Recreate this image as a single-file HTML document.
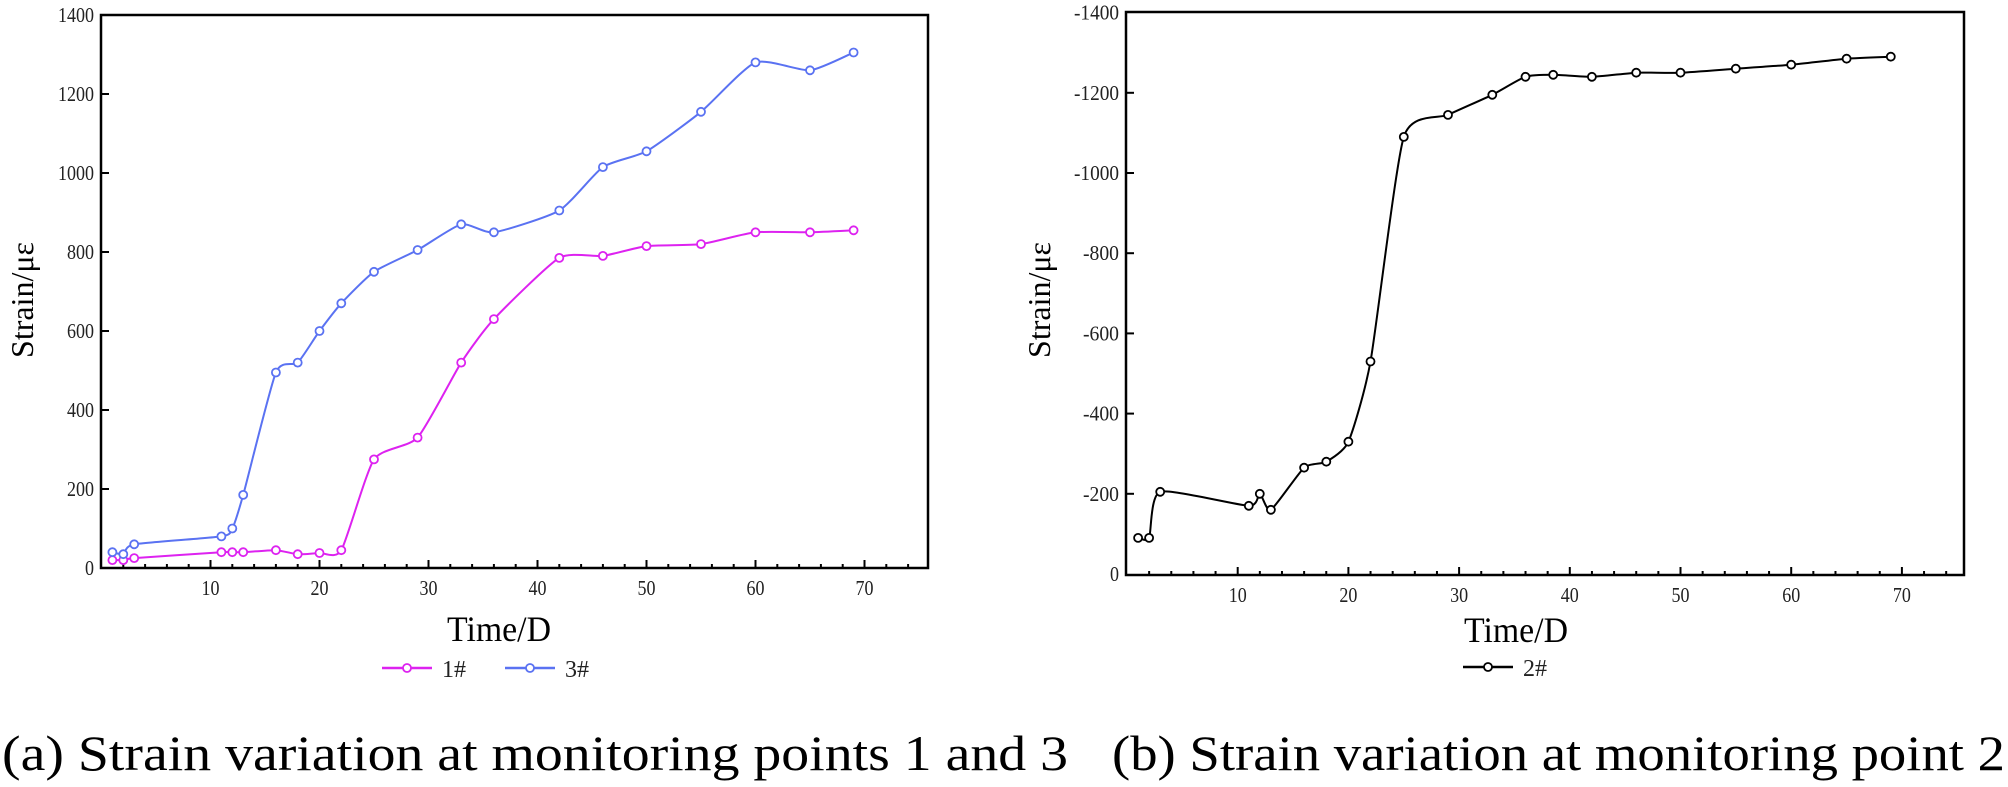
<!DOCTYPE html>
<html><head><meta charset="utf-8"><style>
html,body{margin:0;padding:0;background:#fff;}
svg{display:block;font-family:"Liberation Serif",serif;}
</style></head><body>
<svg id="s" width="2008" height="787" xmlns="http://www.w3.org/2000/svg"></svg>
<script>
const S=document.getElementById('s');
let h='';
function add(x){h+=x;}
function catmull(pts){
  let d='M'+pts[0][0].toFixed(1)+','+pts[0][1].toFixed(1);
  for(let i=0;i<pts.length-1;i++){
    const p0=pts[i-1]||pts[i],p1=pts[i],p2=pts[i+1],p3=pts[i+2]||p2;
    const t=1/10;
    const c1=[p1[0]+(p2[0]-p0[0])*t,p1[1]+(p2[1]-p0[1])*t];
    const c2=[p2[0]-(p3[0]-p1[0])*t,p2[1]-(p3[1]-p1[1])*t];
    d+=`C${c1[0].toFixed(1)},${c1[1].toFixed(1)} ${c2[0].toFixed(1)},${c2[1].toFixed(1)} ${p2[0].toFixed(1)},${p2[1].toFixed(1)}`;
  }
  return d;
}
function plot(o){
  const {L,R,T,B,x0,xs,y0,ys,ylabels,lx}=o;
  add(`<rect x="${L}" y="${T}" width="${R-L}" height="${B-T}" fill="none" stroke="#000" stroke-width="2.5"/>`);
  for(let v=2;v*xs+x0<R-2;v+=2){
    const X=x0+v*xs; const major=v%10===0;
    add(`<line x1="${X}" y1="${B}" x2="${X}" y2="${B-(major?8:4)}" stroke="#000" stroke-width="2"/>`);
    if(major) add(`<text x="${X}" y="${B+27}" font-size="21" text-anchor="middle" fill="#222" textLength="${String(v).length*9}" lengthAdjust="spacingAndGlyphs">${v}</text>`);
  }
  ylabels.forEach((lab,i)=>{
    const Y=y0-i*200*ys;
    if(i>0&&i<ylabels.length-1) add(`<line x1="${L}" y1="${Y}" x2="${L+8}" y2="${Y}" stroke="#000" stroke-width="2"/>`);
    add(`<text x="${lx}" y="${Y+7}" font-size="21" text-anchor="end" fill="#222" textLength="${lab.length*9}" lengthAdjust="spacingAndGlyphs">${lab}</text>`);
  });
}
const A={L:101,R:928,T:15,B:568,x0:101.5,xs:10.9,y0:568,ys:0.395,lx:94,
 ylabels:['0','200','400','600','800','1000','1200','1400']};
plot(A);
const Bp={L:1126,R:1964,T:12,B:575,x0:1127,xs:11.07,y0:574,ys:0.401,lx:1119,
 ylabels:['0','-200','-400','-600','-800','-1000','-1200','-1400']};
plot(Bp);
function series(P,data,col,neg){
  const pts=data.map(([d,v])=>[P.x0+d*P.xs,P.y0-(neg?-v:v)*P.ys]);
  add(`<path d="${catmull(pts)}" fill="none" stroke="${col}" stroke-width="2"/>`);
  pts.forEach(p=>add(`<circle cx="${p[0].toFixed(1)}" cy="${p[1].toFixed(1)}" r="4" fill="#fff" stroke="${col}" stroke-width="1.8"/>`));
}
const days=[1,2,3,11,12,13,16,18,20,22,25,29,33,36,42,46,50,55,60,65,69];
const v1=[20,20,25,40,40,40,45,35,38,45,275,330,520,630,785,790,815,820,850,850,855];
const v3=[40,35,60,80,100,185,495,520,600,670,750,805,870,850,905,1015,1055,1155,1280,1260,1305];
series(A,days.map((d,i)=>[d,v1[i]]),'#dd22f0');
series(A,days.map((d,i)=>[d,v3[i]]),'#5a72f2');
const d2=[1,2,3,11,12,13,16,18,20,22,25,29,33,36,38.5,42,46,50,55,60,65,69];
const v2=[-90,-90,-205,-170,-200,-160,-265,-280,-330,-530,-1090,-1145,-1195,-1240,-1245,-1240,-1250,-1250,-1260,-1270,-1285,-1290];
series(Bp,d2.map((d,i)=>[d,v2[i]]),'#000',true);
add(`<text x="499" y="641" font-size="36" text-anchor="middle" textLength="104" lengthAdjust="spacingAndGlyphs">Time/D</text>`);
add(`<text x="1516" y="642" font-size="36" text-anchor="middle" textLength="104" lengthAdjust="spacingAndGlyphs">Time/D</text>`);
add(`<text transform="translate(33,300) rotate(-90)" font-size="32" text-anchor="middle">Strain/με</text>`);
add(`<text transform="translate(1050,300) rotate(-90)" font-size="32" text-anchor="middle">Strain/με</text>`);
function leg(x,y,col,lab){
  add(`<line x1="${x}" y1="${y}" x2="${x+50}" y2="${y}" stroke="${col}" stroke-width="2.5"/>`);
  add(`<circle cx="${x+25}" cy="${y}" r="4" fill="#fff" stroke="${col}" stroke-width="1.8"/>`);
  add(`<text x="${x+60}" y="${y+9}" font-size="24" fill="#222">${lab}</text>`);
}
leg(382,668,'#dd22f0','1#');
leg(505,668,'#5a72f2','3#');
leg(1463,667,'#000','2#');
add(`<text x="2" y="770" font-size="50" textLength="1066" lengthAdjust="spacingAndGlyphs">(a) Strain variation at monitoring points 1 and 3</text>`);
add(`<text x="1112" y="770" font-size="50" textLength="893" lengthAdjust="spacingAndGlyphs">(b) Strain variation at monitoring point 2</text>`);
S.innerHTML=h;
</script>
</body></html>
